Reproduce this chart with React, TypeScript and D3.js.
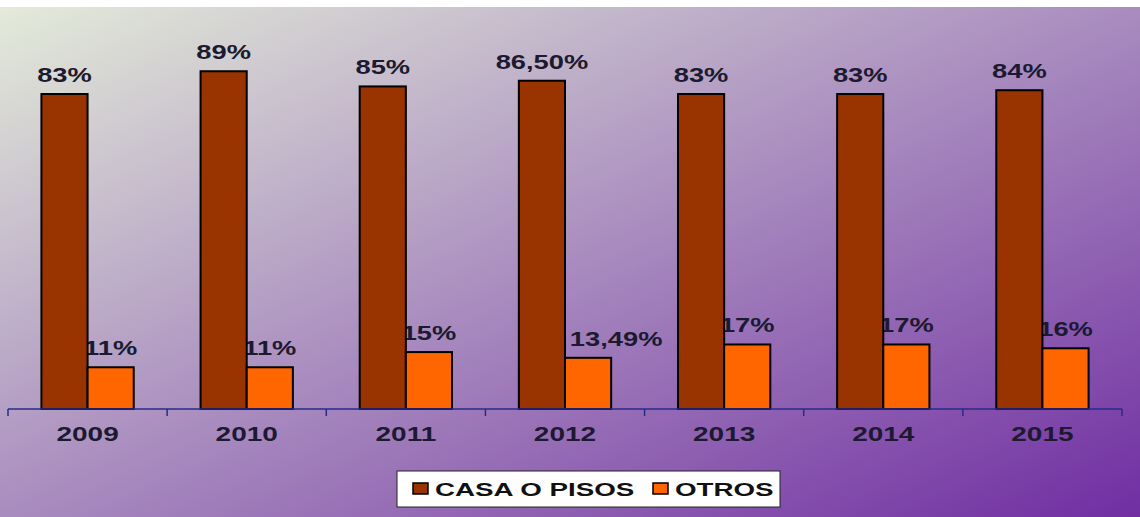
import React from "react";
import * as d3 from "d3";

const years = ["2009", "2010", "2011", "2012", "2013", "2014", "2015"];
const seriesNames = ["CASA O PISOS", "OTROS"];
const casaValues = [83, 89, 85, 86.5, 83, 83, 84];
const otrosValues = [11, 11, 15, 13.49, 17, 17, 16];
const casaLabels = ["83%", "89%", "85%", "86,50%", "83%", "83%", "84%"];
const otrosLabels = ["11%", "11%", "15%", "13,49%", "17%", "17%", "16%"];
const seriesColors = ["#993300", "#ff6600"];

const W = 1140;
const H = 517;
const FONT = "'Liberation Sans', Arial, sans-serif";
const TEXT_COLOR = "#1c1a30";

export default function App() {
  const x0 = d3.scaleBand<string>().domain(years).range([8, 1122]).padding(0);
  const bw = x0.bandwidth();
  const groupW = bw * 0.58;
  const x1 = d3
    .scaleBand<string>()
    .domain(seriesNames)
    .range([(bw - groupW) / 2, (bw + groupW) / 2])
    .padding(0);
  const y = d3.scaleLinear().domain([0, 100]).range([409, 29.5]);
  const baseY = y(0);

  const labelW = (s: string) => s.length * 0.6 * 21 * 1.3;

  const labels: React.ReactNode[] = [];
  const bars: React.ReactNode[] = [];
  years.forEach((yr, i) => {
    const gx = x0(yr)!;
    const vals = [casaValues[i], otrosValues[i]];
    const labs = [casaLabels[i], otrosLabels[i]];
    seriesNames.forEach((s, j) => {
      const bx = gx + x1(s)!;
      const by = y(vals[j]);
      bars.push(
        <rect
          key={`b-${i}-${j}`}
          x={bx}
          y={by}
          width={x1.bandwidth()}
          height={baseY - by}
          fill={seriesColors[j]}
          stroke="#000"
          strokeWidth={2}
        />
      );
      let cx = bx + x1.bandwidth() / 2;
      if (j === 1) {
        const w = labelW(labs[j]);
        const overlap = bx - (cx - w / 2);
        if (overlap > 10) cx = bx + 2 + w / 2;
      }
      labels.push(
        <text
          key={`l-${i}-${j}`}
          transform={`translate(${cx},${by - 12}) scale(1.3,1)`}
          textAnchor="middle"
          fontFamily={FONT}
          fontWeight="bold"
          fontSize={21}
          fill={TEXT_COLOR}
        >
          {labs[j]}
        </text>
      );
    });
  });

  return (
    <svg
      width={W}
      height={H}
      style={{ position: "absolute", left: 0, top: 0, display: "block" }}
    >
      <defs>
        <linearGradient id="bg" x1="0" y1="0" x2="1" y2="1">
          <stop offset="0" stopColor="#e3ebd9" />
          <stop offset="0.5" stopColor="#a98cbf" />
          <stop offset="1" stopColor="#702ea2" />
        </linearGradient>
      </defs>
      <rect x={0} y={0} width={W} height={H} fill="#fff" />
      <rect x={0} y={7} width={W} height={H - 7} fill="url(#bg)" />

      {labels}
      {bars}

      <line x1={8} x2={1122} y1={baseY} y2={baseY} stroke="#2a2a8a" strokeWidth={1.5} />
      {[...years.map((yr) => x0(yr)!), 1122].map((tx, i) => (
        <line
          key={`t-${i}`}
          x1={tx}
          x2={tx}
          y1={baseY}
          y2={baseY + 7}
          stroke="#2a2a8a"
          strokeWidth={1.5}
        />
      ))}
      {years.map((yr) => (
        <text
          key={`y-${yr}`}
          transform={`translate(${x0(yr)! + bw / 2},441) scale(1.4,1)`}
          textAnchor="middle"
          fontFamily={FONT}
          fontWeight="bold"
          fontSize={20}
          fill={TEXT_COLOR}
        >
          {yr}
        </text>
      ))}

      <g>
        <rect x={397} y={471} width={383} height={36} fill="#fff" stroke="#222" strokeWidth={1} />
        {seriesNames.map((s, j) => {
          const sx = j === 0 ? 413 : 653;
          return (
            <g key={`lg-${j}`}>
              <rect x={sx} y={483} width={15} height={11} fill={seriesColors[j]} stroke="#000" strokeWidth={1.5} />
              <text
                transform={`translate(${sx + 22},496) scale(1.46,1)`}
                fontFamily={FONT}
                fontWeight="bold"
                fontSize={19}
                fill="#111"
              >
                {s}
              </text>
            </g>
          );
        })}
      </g>
    </svg>
  );
}
